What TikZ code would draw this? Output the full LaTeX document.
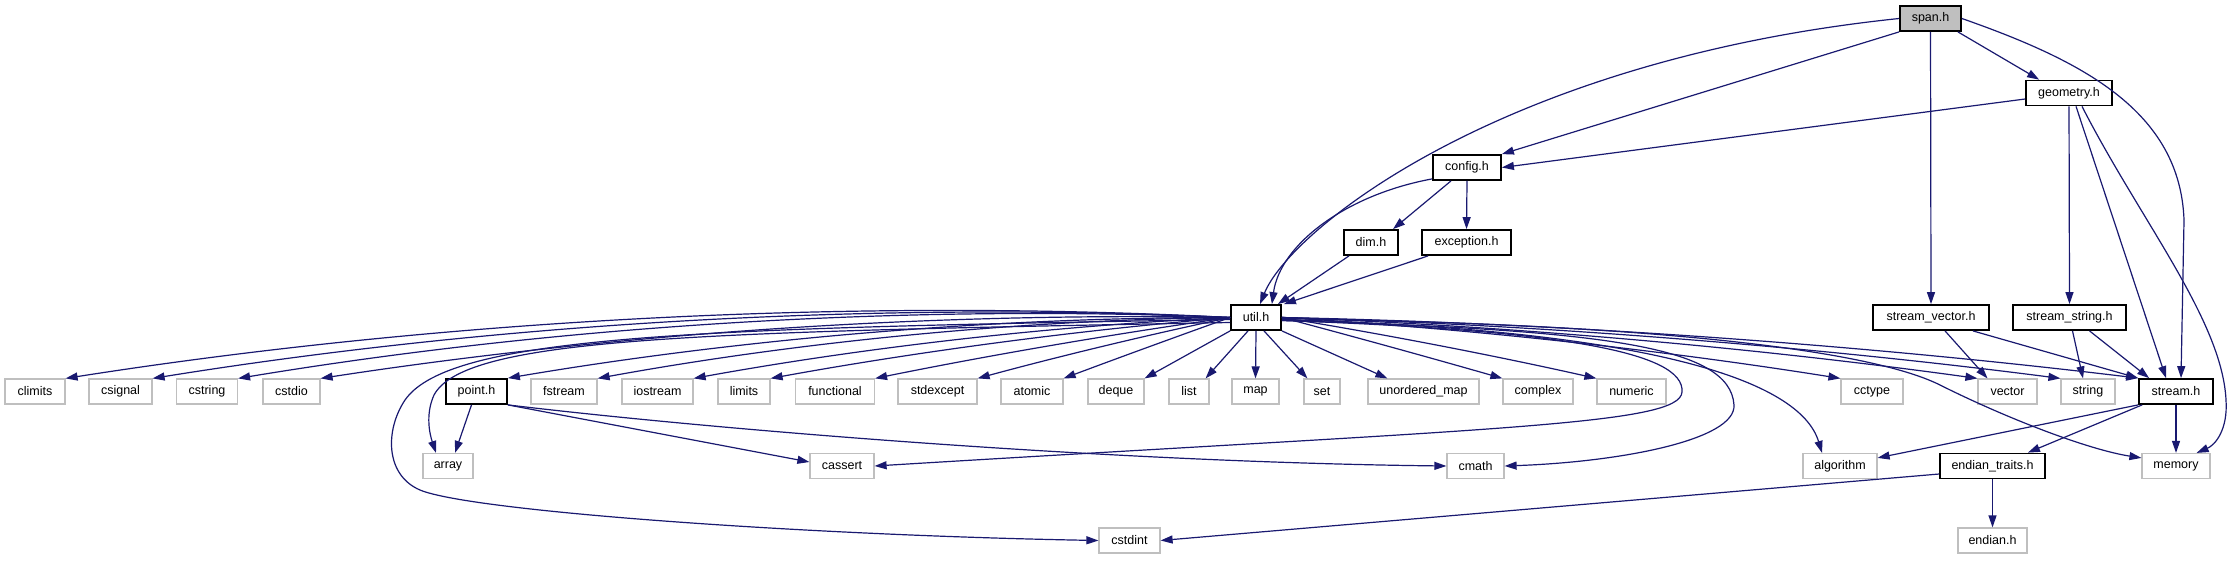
\documentclass[tikz,border=0pt]{standalone}
\usepackage{fontspec}
\setmainfont{Liberation Sans}
\usetikzlibrary{arrows.meta,calc}
\definecolor{edgec}{HTML}{191970}
\definecolor{leafc}{HTML}{BFBFBF}
\begin{document}
\begin{tikzpicture}[x=1pt,y=1pt,
  base/.style={rectangle, minimum height=25pt, inner sep=0pt, font=\fontsize{12.5}{14}\selectfont, fill=white, text=black},
  leaf/.style={base, draw=leafc, line width=1.2pt},
  inc/.style={base, draw=black, line width=1.8pt},
  root/.style={base, draw=black, fill=leafc, line width=1.8pt},
  e/.style={draw=edgec, line width=1.2pt, -{Triangle[length=12pt,width=8pt]}}
]
\fill[white] (0,0) rectangle (2234,-560);
\useasboundingbox (0,0) rectangle (2234,-560);
% top part
\node[root,minimum width=61pt] (span) at (1930.5,-18.5) {span.h};
\node[inc,minimum width=86pt] (geometry) at (2069,-93) {geometry.h};
\node[inc,minimum width=68pt] (config) at (1467,-167.5) {config.h};
\node[inc,minimum width=54pt] (dim) at (1371,-242.5) {dim.h};
\node[inc,minimum width=89pt] (exception) at (1466.5,-242.5) {exception.h};
\node[inc,minimum width=50pt] (util) at (1256,-317.5) {util.h};
\node[inc,minimum width=116pt] (svec) at (1931,-317.5) {stream\_vector.h};
\node[inc,minimum width=113pt] (sstr) at (2069.5,-317.5) {stream\_string.h};
% leaf row
\node[leaf,minimum width=60pt] (climits) at (35,-391.5) {climits};
\node[leaf,minimum width=63pt] (csignal) at (120.5,-391.5) {csignal};
\node[leaf,minimum width=61pt] (cstring) at (207,-391.5) {cstring};
\node[leaf,minimum width=57pt] (cstdio) at (291.5,-391.5) {cstdio};
\node[inc,minimum width=61pt] (point) at (476.5,-391.5) {point.h};
\node[leaf,minimum width=66pt] (fstream) at (564,-391.5) {fstream};
\node[leaf,minimum width=71pt] (iostream) at (657.5,-391.5) {iostream};
\node[leaf,minimum width=52pt] (limits) at (744,-391.5) {limits};
\node[leaf,minimum width=79pt] (functional) at (835,-391.5) {functional};
\node[leaf,minimum width=79pt] (stdexcept) at (937.5,-391.5) {stdexcept};
\node[leaf,minimum width=62pt] (atomic) at (1032,-391.5) {atomic};
\node[leaf,minimum width=56pt] (deque) at (1116,-391.5) {deque};
\node[leaf,minimum width=40pt] (list) at (1189,-391.5) {list};
\node[leaf,minimum width=47pt] (map) at (1255.5,-391.5) {map};
\node[leaf,minimum width=36pt] (set) at (1322,-391.5) {set};
\node[leaf,minimum width=111pt] (umap) at (1423.5,-391.5) {unordered\_map};
\node[leaf,minimum width=70pt] (complex) at (1538,-391.5) {complex};
\node[leaf,minimum width=69pt] (numeric) at (1631.5,-391.5) {numeric};
\node[leaf,minimum width=62pt] (cctype) at (1872,-391.5) {cctype};
\node[leaf,minimum width=59pt] (vector) at (2007.5,-391.5) {vector};
\node[leaf,minimum width=54pt] (string) at (2088,-391.5) {string};
\node[inc,minimum width=74pt] (stream) at (2176,-391.5) {stream.h};
% lower rows
\node[leaf,minimum width=50pt] (array) at (448,-466) {array};
\node[leaf,minimum width=64pt] (cassert) at (842,-466) {cassert};
\node[leaf,minimum width=57pt] (cmath) at (1475.5,-466) {cmath};
\node[leaf,minimum width=74pt] (algorithm) at (1840,-466) {algorithm};
\node[inc,minimum width=105pt] (etraits) at (1992.5,-466) {endian\_traits.h};
\node[leaf,minimum width=68pt] (memory) at (2176,-466) {memory};
\node[leaf,minimum width=61pt] (cstdint) at (1129.5,-540.5) {cstdint};
\node[leaf,minimum width=69pt] (endianh) at (1992.5,-540.5) {endian.h};

% edges from span.h
\draw[e] (span.west) .. controls (1500,-60) and (1290,-230) .. ($(util.north)+(4,0)$);
\draw[e] (span.south west) -- (config.north east);
\draw[e] ($(span.south east)+(-4,0)$) -- ($(geometry.north west)+(14,0)$);
\draw[e] (span.south) -- (svec.north);
\draw[e] (span.east) .. controls (2080,-60) and (2180,-110) .. (2184,-220) -- ($(stream.north)+(5,0)$);
% edges from geometry.h
\draw[e] ($(geometry.west)+(0,-6)$) -- (config.east);
\draw[e] (geometry.south) -- (sstr.north);
\draw[e] ($(geometry.south)+(7,0)$) -- ($(stream.north)+(-10,0)$);
\draw[e] ($(geometry.south)+(13,0)$) .. controls (2140,-220) and (2222,-320) .. (2226,-400) .. controls (2228,-430) and (2215,-445) .. ($(memory.north east)+(-14,0)$);
% edges from config.h
\draw[e] ($(config.south west)+(0,2)$) .. controls (1345,-195) and (1280,-245) .. ($(util.north east)+(-10,0)$);
\draw[e] ($(config.south)+(-16,0)$) -- ($(dim.north)+(22,0)$);
\draw[e] (config.south) -- (exception.north);
\draw[e] ($(dim.south)+(-22,0)$) -- ($(util.north east)+(-4,0)$);
\draw[e] ($(exception.south west)+(7,0)$) -- ($(util.north east)+(2,0)$);
% util.h fan, left side
\foreach \n/\xr/\b in {climits/65/6, csignal/152/6, cstring/238/6, cstdio/320/5, point/507/5, fstream/597/5, iostream/693/4, limits/770/3, functional/874.5/2, stdexcept/977/2, atomic/1063/1}{
  \pgfmathsetmacro{\dx}{1231-\xr}
  \pgfmathsetmacro{\s}{atan(61/\dx)}
  \pgfmathsetmacro{\cax}{1231-0.35*\dx}
  \pgfmathsetmacro{\cay}{-318-0.35*\dx*tan(\s-\b)}
  \pgfmathsetmacro{\cbx}{\xr+0.3*\dx}
  \pgfmathsetmacro{\cby}{-379+0.3*\dx*tan(\s+\b)}
  \draw[e] (util.west) .. controls (\cax,\cay) and (\cbx,\cby) .. (\n.north east);
}
\draw[e] (util.south west) -- (deque.north east);
\draw[e] ($(util.south)+(-8,0)$) -- ($(list.north east)+(-4,0)$);
\draw[e] (util.south) -- (map.north);
\draw[e] ($(util.south)+(8,0)$) -- ($(set.north west)+(4,0)$);
\draw[e] (util.south east) -- ($(umap.north west)+(20,0)$);
% util.h fan, right side
\foreach \n/\xl/\b in {complex/1503/1, numeric/1597/2, cctype/1841/3, vector/1978/3, string/2061/3, stream/2139/3}{
  \pgfmathsetmacro{\dx}{\xl-1281}
  \pgfmathsetmacro{\s}{atan(61/\dx)}
  \pgfmathsetmacro{\cax}{1281+0.35*\dx}
  \pgfmathsetmacro{\cay}{-318-0.35*\dx*tan(\s-\b)}
  \pgfmathsetmacro{\cbx}{\xl-0.3*\dx}
  \pgfmathsetmacro{\cby}{-379+0.3*\dx*tan(\s+\b)}
  \draw[e] (util.east) .. controls (\cax,\cay) and (\cbx,\cby) .. (\n.north west);
}
\draw[e] ($(util.west)+(0,-2)$) .. controls (700,-328) and (450,-335) .. (405,-400) .. controls (385,-430) and (385,-475) .. (420,-490) .. controls (470,-511) and (800,-535) .. (cstdint.west);
\draw[e] ($(util.west)+(0,-5)$) .. controls (700,-332) and (465,-337) .. (434,-395) .. controls (425,-415) and (430,-435) .. ($(array.north)+(-12,0)$);
\draw[e] ($(util.east)+(0,-3)$) .. controls (1560,-330) and (1685,-352) .. (1682,-392) .. controls (1680,-425) and (1500,-428) .. (cassert.east);
\draw[e] ($(util.east)+(0,-3)$) .. controls (1600,-330) and (1730,-345) .. (1734,-405) .. controls (1736,-440) and (1620,-462) .. (cmath.east);
\draw[e] ($(util.east)+(0,-2)$) .. controls (1650,-330) and (1800,-380) .. ($(algorithm.north)+(-18,0)$);
\draw[e] ($(util.east)+(0,-1)$) .. controls (1700,-325) and (1880,-355) .. (1940,-385) .. controls (2010,-420) and (2090,-450) .. ($(memory.north west)+(0,-5)$);
% point.h
\draw[e] ($(point.south)+(-5,0)$) -- ($(array.north)+(7,0)$);
\draw[e] (point.south east) -- ($(cassert.west)+(0,4)$);
\draw[e] (point.south east) .. controls (700,-428) and (1100,-462) .. (cmath.west);
% stream_vector / stream_string
\draw[e] ($(svec.south)+(14,0)$) -- ($(vector.north)+(-20,0)$);
\draw[e] ($(svec.south east)+(-17,0)$) -- (stream.north west);
\draw[e] ($(sstr.south)+(3,0)$) -- ($(string.north)+(-5,0)$);
\draw[e] ($(sstr.south)+(20,0)$) -- ($(stream.north west)+(11,0)$);
% stream.h
\draw[e] (stream.south west) -- ($(algorithm.north east)+(0,-5)$);
\draw[e] ($(stream.south west)+(4,0)$) -- ($(etraits.north east)+(-18,0)$);
\draw[e] (stream.south) -- (memory.north);
% endian_traits.h
\draw[e] ($(etraits.west)+(0,-8)$) -- (cstdint.east);
\draw[e] (etraits.south) -- (endianh.north);
\end{tikzpicture}
\end{document}
